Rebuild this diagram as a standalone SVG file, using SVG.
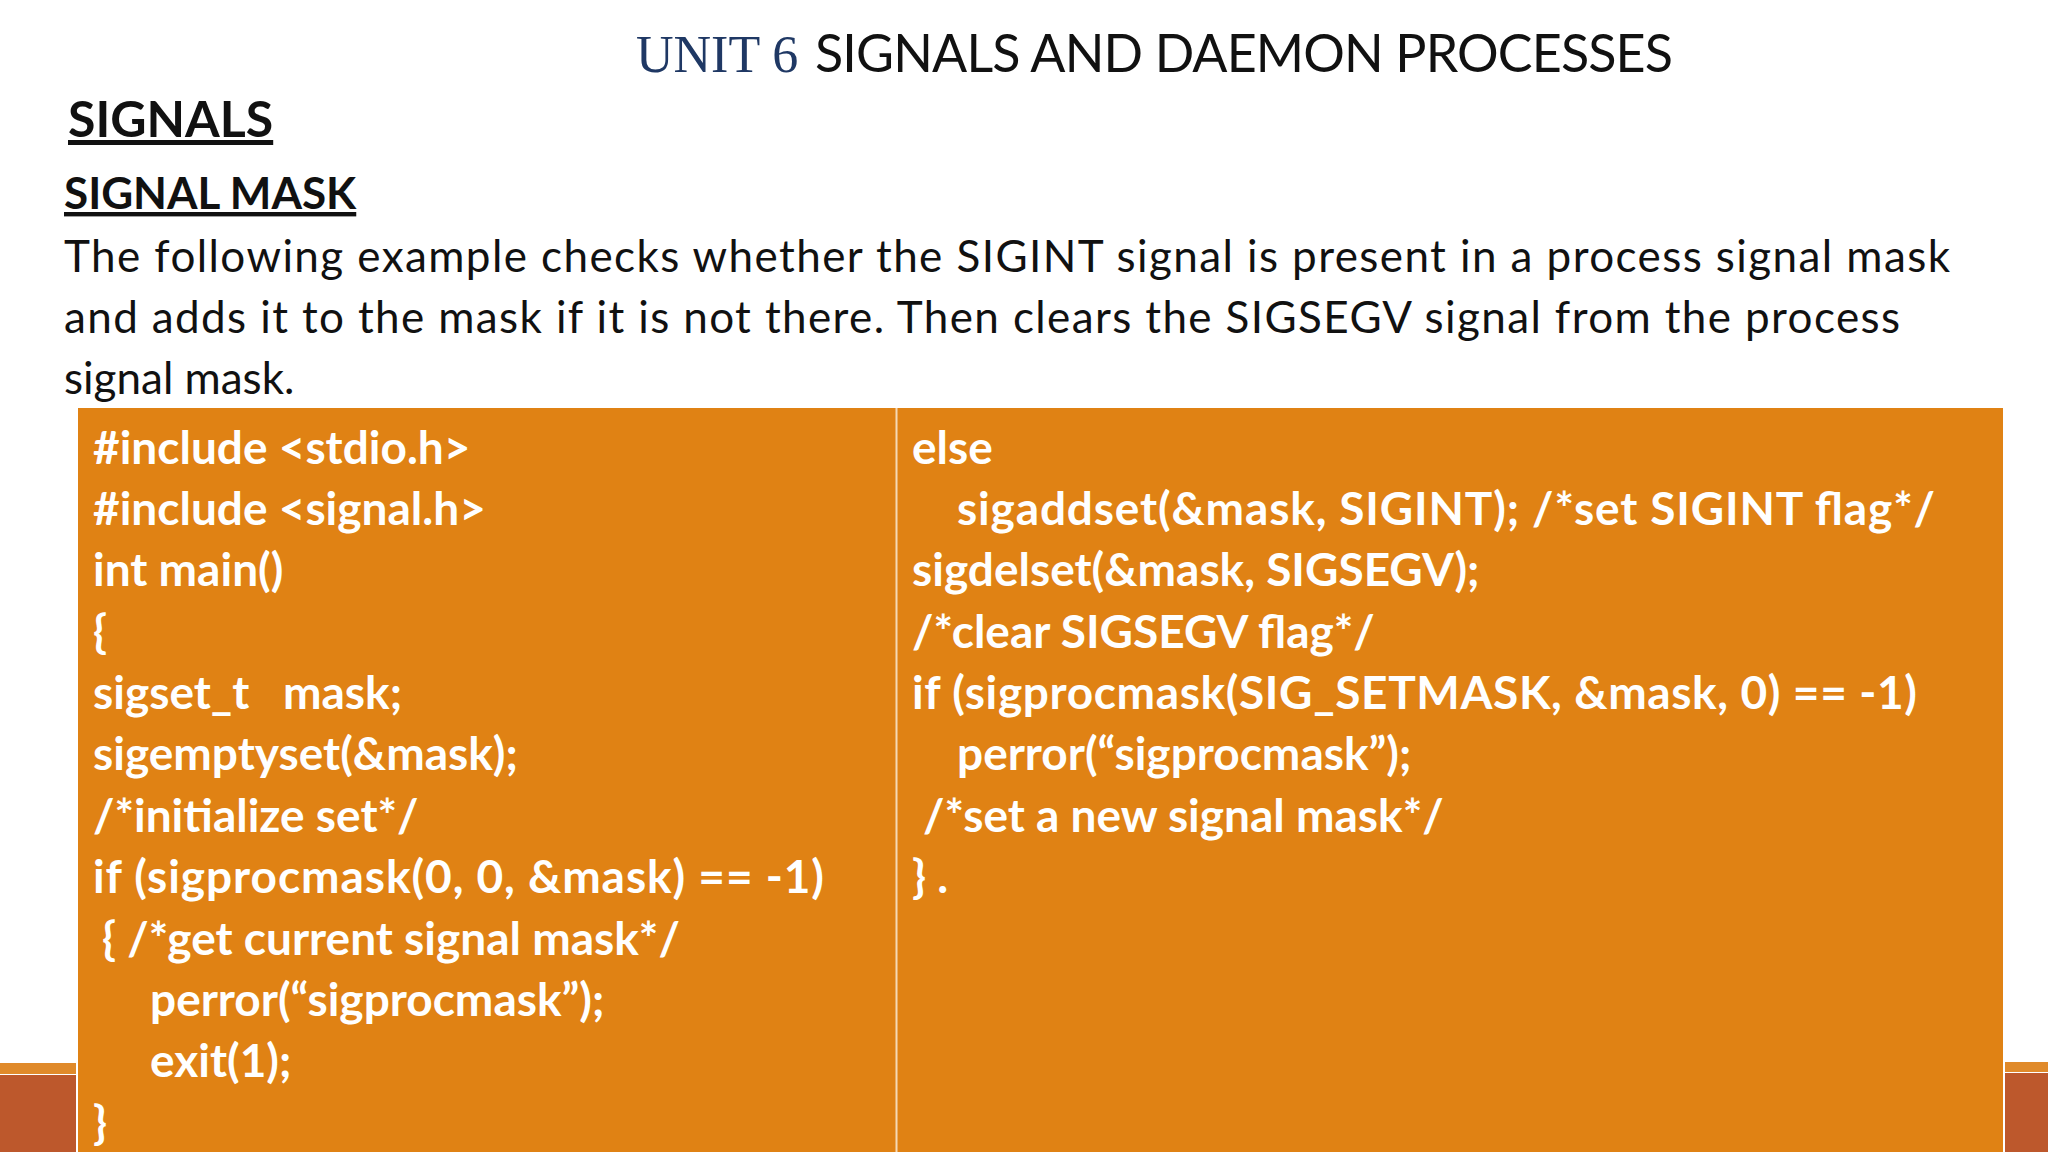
<svg xmlns="http://www.w3.org/2000/svg" width="2048" height="1152" viewBox="0 0 2048 1152">
<style>
.c{font-family:Lato,"Open Sans",sans-serif;font-weight:bold;font-size:46px;fill:#fff;white-space:pre}
.p{font-family:Lato,"Open Sans",sans-serif;font-size:44px;fill:#111}
.h{font-family:Lato,"Open Sans",sans-serif;font-weight:bold;fill:#111;text-decoration:underline}
</style>
<rect width="2048" height="1152" fill="#fff"/>
<g id="bars">
<rect x="0" y="1063" width="76" height="11" fill="#e08a2a"/>
<rect x="0" y="1075" width="76" height="77" fill="#bd582c"/>
<rect x="2005" y="1062" width="43" height="10" fill="#e08a2a"/>
<rect x="2005" y="1073" width="43" height="79" fill="#bd582c"/>
</g>
<g id="title">
<text x="636" y="72" font-family="Liberation Serif,serif" font-size="52" fill="#1f3864">UNIT 6</text>
<text x="815" y="72" font-family="Lato,'Open Sans',sans-serif" font-size="52" fill="#111" textLength="858">SIGNALS AND DAEMON PROCESSES</text>
</g>
<text class="h" x="68" y="137" font-size="50">SIGNALS</text>
<text class="h" x="64" y="209" font-size="44">SIGNAL MASK</text>
<text class="p" x="64" y="272" textLength="1886">The following example checks whether the SIGINT signal is present in a process signal mask</text>
<text class="p" x="64" y="333" textLength="1836">and adds it to the mask if it is not there. Then clears the SIGSEGV signal from the process</text>
<text class="p" x="64" y="394">signal mask.</text>
<g id="table">
<rect x="78" y="408" width="818" height="744" fill="#e08214"/>
<rect x="897" y="408" width="1106" height="744" fill="#e08214"/>
<line x1="896.5" y1="408" x2="896.5" y2="1152" stroke="#f5d9b5" stroke-width="2"/>
</g>
<g id="left-code">
<text class="c" x="93" y="464">#include &lt;stdio.h&gt;</text>
<text class="c" x="93" y="525">#include &lt;signal.h&gt;</text>
<text class="c" x="93" y="586">int main()</text>
<text class="c" x="93" y="648">{</text>
<text class="c" x="93" y="709">sigset_t   mask;</text>
<text class="c" x="93" y="770">sigemptyset(&amp;mask);</text>
<text class="c" x="93" y="832">/*initialize set*/</text>
<text class="c" x="93" y="893" textLength="731">if (sigprocmask(0, 0, &amp;mask) == -1)</text>
<text class="c" x="102" y="955">{ /*get current signal mask*/</text>
<text class="c" x="150" y="1016">perror(“sigprocmask”);</text>
<text class="c" x="150" y="1077">exit(1);</text>
<text class="c" x="93" y="1139">}</text>
</g>
<g id="right-code">
<text class="c" x="912" y="464">else</text>
<text class="c" x="957" y="525" textLength="978">sigaddset(&amp;mask, SIGINT); /*set SIGINT flag*/</text>
<text class="c" x="912" y="586">sigdelset(&amp;mask, SIGSEGV);</text>
<text class="c" x="912" y="648">/*clear SIGSEGV flag*/</text>
<text class="c" x="912" y="709" textLength="1005">if (sigprocmask(SIG_SETMASK, &amp;mask, 0) == -1)</text>
<text class="c" x="957" y="770">perror(“sigprocmask”);</text>
<text class="c" x="923" y="832">/*set a new signal mask*/</text>
<text class="c" x="912" y="893">} .</text>
</g>
</svg>
